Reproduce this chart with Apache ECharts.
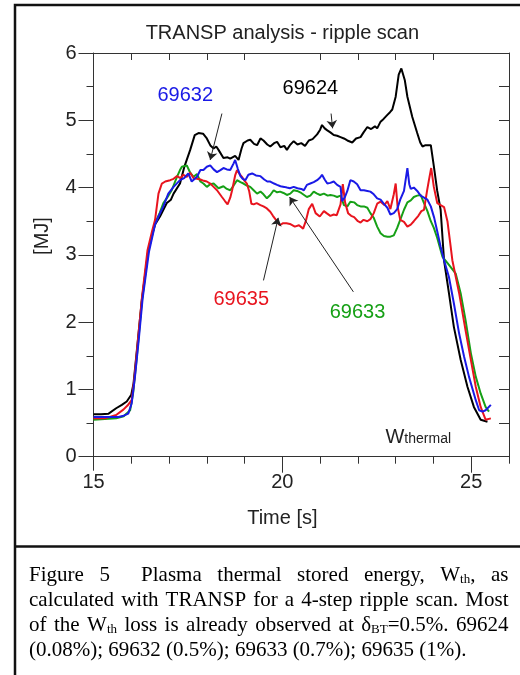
<!DOCTYPE html>
<html>
<head>
<meta charset="utf-8">
<script src="https://cdn.jsdelivr.net/npm/echarts@6.0.0/dist/echarts.min.js"></script>
<style>
html, body { margin: 0; padding: 0; background: #fff; }
#chart { width: 520px; height: 675px; }
</style>
</head>
<body>
<div id="chart"></div>
<script>
// ---- data: [time (s), W_thermal (MJ)] ----
const shot69624 = [
  [15.0,0.63],[15.2,0.63],[15.4,0.64],[15.6,0.72],[15.75,0.77],[15.88,0.82],[16.0,0.92],[16.06,1.09],
  [16.15,1.59],[16.28,2.33],[16.45,3.07],[16.55,3.3],[16.63,3.45],[16.76,3.57],[16.94,3.77],[17.05,3.82],
  [17.12,3.91],[17.29,4.06],[17.4,4.3],[17.56,4.56],[17.68,4.78],[17.78,4.81],[17.9,4.8],[18.0,4.73],
  [18.1,4.62],[18.18,4.58],[18.25,4.61],[18.31,4.56],[18.44,4.44],[18.55,4.45],[18.62,4.43],[18.75,4.47],
  [18.84,4.41],[18.92,4.58],[18.97,4.66],[19.08,4.7],[19.15,4.71],[19.25,4.65],[19.33,4.63],[19.42,4.73],
  [19.5,4.7],[19.6,4.64],[19.68,4.61],[19.78,4.66],[19.86,4.68],[19.95,4.6],[20.05,4.62],[20.12,4.56],
  [20.2,4.63],[20.3,4.69],[20.4,4.64],[20.5,4.66],[20.6,4.62],[20.7,4.7],[20.8,4.72],[20.92,4.79],
  [21.0,4.86],[21.05,4.93],[21.12,4.88],[21.19,4.85],[21.27,4.82],[21.36,4.78],[21.45,4.77],[21.54,4.75],
  [21.63,4.73],[21.72,4.7],[21.85,4.67],[21.95,4.73],[22.07,4.75],[22.15,4.82],[22.25,4.9],[22.35,4.87],
  [22.45,4.91],[22.51,4.88],[22.6,4.98],[22.68,5.02],[22.78,5.08],[22.85,5.12],[22.91,5.16],[23.0,5.35],
  [23.08,5.68],[23.15,5.77],[23.24,5.6],[23.31,5.35],[23.44,5.05],[23.57,4.81],[23.65,4.67],[23.71,4.61],
  [23.79,4.63],[23.93,4.63],[24.01,4.32],[24.1,3.95],[24.19,3.67],[24.28,2.92],[24.41,2.43],[24.54,1.93],
  [24.72,1.44],[24.9,1.04],[25.07,0.74],[25.25,0.55],[25.43,0.52]
];
const shot69632 = [
  [15.0,0.59],[15.3,0.59],[15.66,0.59],[15.8,0.61],[15.92,0.64],[16.01,0.79],[16.1,1.2],[16.2,1.75],
  [16.3,2.35],[16.47,3.05],[16.63,3.45],[16.72,3.57],[16.85,3.72],[16.98,3.91],[17.12,4.01],[17.29,4.11],
  [17.4,4.14],[17.51,4.21],[17.6,4.09],[17.74,4.16],[17.83,4.26],[17.91,4.26],[18.0,4.31],[18.09,4.33],
  [18.18,4.27],[18.27,4.23],[18.36,4.26],[18.44,4.29],[18.53,4.27],[18.62,4.26],[18.71,4.36],[18.75,4.41],
  [18.82,4.28],[18.89,4.17],[18.95,4.13],[19.02,4.11],[19.1,4.19],[19.2,4.21],[19.3,4.18],[19.42,4.17],
  [19.52,4.12],[19.6,4.09],[19.68,4.09],[19.78,4.06],[19.86,4.04],[19.95,4.02],[20.05,4.01],[20.12,4.0],
  [20.2,3.99],[20.3,4.01],[20.4,3.99],[20.5,3.98],[20.57,3.96],[20.65,4.04],[20.74,4.06],[20.83,4.08],
  [20.92,4.11],[21.0,4.15],[21.05,4.19],[21.12,4.12],[21.19,4.06],[21.27,4.07],[21.36,4.09],[21.45,4.04],
  [21.54,4.01],[21.58,3.8],[21.65,3.85],[21.72,3.95],[21.8,4.11],[21.89,4.09],[21.98,4.05],[22.07,3.96],
  [22.16,3.96],[22.25,3.95],[22.33,3.94],[22.42,3.9],[22.51,3.84],[22.6,3.82],[22.7,3.75],[22.78,3.7],
  [22.86,3.6],[22.95,3.62],[23.04,3.68],[23.12,3.82],[23.22,3.95],[23.31,4.29],[23.36,4.05],[23.4,3.98],
  [23.48,4.0],[23.57,3.95],[23.66,3.88],[23.75,3.85],[23.84,3.82],[23.93,3.72],[24.02,3.55],[24.1,3.35],
  [24.19,3.12],[24.28,2.92],[24.41,2.67],[24.54,2.28],[24.68,1.83],[24.81,1.49],[24.94,1.19],[25.12,0.84],
  [25.21,0.69],[25.3,0.67],[25.38,0.69],[25.52,0.77]
];
const shot69633 = [
  [15.0,0.55],[15.3,0.56],[15.6,0.57],[15.8,0.6],[15.97,0.69],[16.05,0.95],[16.15,1.5],[16.28,2.3],
  [16.45,3.05],[16.63,3.47],[16.75,3.62],[16.85,3.77],[16.95,3.85],[17.07,3.96],[17.21,4.16],[17.29,4.26],
  [17.34,4.31],[17.47,4.33],[17.56,4.22],[17.65,4.16],[17.74,4.2],[17.83,4.09],[17.91,4.06],[18.0,4.01],
  [18.09,4.05],[18.18,4.06],[18.31,3.99],[18.44,4.02],[18.53,3.98],[18.62,3.96],[18.71,4.03],[18.8,4.11],
  [18.89,4.08],[18.97,4.06],[19.06,4.03],[19.15,4.01],[19.24,3.96],[19.33,3.91],[19.42,3.94],[19.5,3.9],
  [19.59,3.84],[19.68,3.89],[19.77,3.96],[19.86,3.93],[19.94,3.94],[20.03,3.92],[20.12,3.89],[20.21,3.91],
  [20.3,3.96],[20.39,3.95],[20.5,3.92],[20.65,3.86],[20.74,3.88],[20.83,3.94],[20.92,3.91],[21.0,3.89],
  [21.1,3.91],[21.2,3.88],[21.27,3.89],[21.36,3.88],[21.45,3.86],[21.54,3.88],[21.63,3.74],[21.72,3.72],
  [21.8,3.79],[21.9,3.78],[21.98,3.74],[22.07,3.72],[22.16,3.72],[22.25,3.7],[22.33,3.62],[22.42,3.55],
  [22.51,3.42],[22.6,3.32],[22.69,3.28],[22.78,3.27],[22.86,3.27],[22.95,3.29],[23.04,3.4],[23.12,3.52],
  [23.22,3.67],[23.31,3.78],[23.4,3.81],[23.48,3.86],[23.57,3.88],[23.66,3.89],[23.75,3.77],[23.84,3.65],
  [23.93,3.5],[24.01,3.4],[24.1,3.25],[24.24,2.97],[24.41,2.85],[24.59,2.72],[24.72,2.43],[24.85,2.03],
  [24.99,1.54],[25.12,1.19],[25.25,0.94],[25.38,0.74],[25.47,0.67]
];
const shot69635 = [
  [15.0,0.57],[15.3,0.57],[15.6,0.62],[15.79,0.7],[15.9,0.76],[16.01,0.84],[16.08,1.15],[16.18,1.75],
  [16.28,2.35],[16.43,3.07],[16.55,3.35],[16.63,3.52],[16.72,3.91],[16.81,4.06],[16.9,4.09],[17.03,4.11],
  [17.12,4.13],[17.21,4.17],[17.3,4.14],[17.38,4.19],[17.47,4.16],[17.56,4.22],[17.65,4.14],[17.74,4.13],
  [17.83,4.12],[17.92,4.1],[18.0,4.09],[18.09,4.06],[18.18,4.01],[18.27,3.96],[18.4,3.86],[18.48,3.8],
  [18.55,3.75],[18.62,3.85],[18.67,3.96],[18.75,4.18],[18.8,4.26],[18.87,4.2],[18.93,4.16],[19.0,4.1],
  [19.06,4.06],[19.12,3.95],[19.18,3.76],[19.24,3.75],[19.32,3.77],[19.42,3.74],[19.5,3.72],[19.59,3.69],
  [19.68,3.64],[19.75,3.58],[19.83,3.52],[19.93,3.44],[20.02,3.47],[20.11,3.47],[20.2,3.46],[20.33,3.42],
  [20.44,3.44],[20.55,3.39],[20.62,3.5],[20.7,3.68],[20.79,3.76],[20.88,3.62],[20.99,3.57],[21.1,3.65],
  [21.17,3.62],[21.27,3.58],[21.36,3.6],[21.44,3.59],[21.54,3.75],[21.6,4.05],[21.66,3.78],[21.74,3.62],
  [21.82,3.58],[21.9,3.56],[22.0,3.5],[22.07,3.48],[22.15,3.52],[22.25,3.5],[22.33,3.53],[22.42,3.62],
  [22.51,3.76],[22.6,3.79],[22.7,3.74],[22.78,3.8],[22.86,3.68],[22.95,3.9],[23.0,4.06],[23.05,3.72],
  [23.12,3.52],[23.22,3.49],[23.31,3.42],[23.4,3.45],[23.48,3.5],[23.6,3.58],[23.68,3.65],[23.75,3.67],
  [23.83,3.95],[23.88,4.11],[23.94,4.29],[24.01,4.01],[24.1,3.77],[24.19,3.74],[24.28,3.71],[24.37,3.5],
  [24.45,3.15],[24.5,2.92],[24.68,2.43],[24.85,1.88],[24.99,1.44],[25.12,1.04],[25.25,0.74],[25.38,0.55],
  [25.52,0.57]
];

// axis ticks / labels
const xTickMinor = [15,16,17,18,19,20,21,22,23,24,25,26];
const xTickMajor = [15,20,25];
const xTopMinor = [16,17,18,19,21,22,23,24,26];
const xTopMajor = [20,25];

// annotations (shot number, label spot, arrow tail, arrow head) in data units
const shotNames = ['69624','69632','69633','69635'];
const shotColors = ['#000000','#1a1ae6','#16a016','#e8141e'];
const labelAt = [[20.74,5.47],[17.43,5.375],[21.99,2.15],[18.91,2.34]];
const arrowFrom = [[21.29,5.10],[18.40,5.10],[21.88,2.45],[19.50,2.62]];
const arrowTo = [[21.33,4.88],[18.09,4.41],[20.19,3.86],[19.89,3.55]];

const captionLines = [
  'Figure 5  Plasma thermal stored energy, W_{th}, as',
  'calculated with TRANSP for a 4-step ripple scan. Most',
  'of the W_{th} loss is already observed at δ_{BT}=0.5%. 69624',
  '(0.08%); 69632 (0.5%); 69633 (0.7%); 69635 (1%).'
];

// ==========================================
const SANS = "'Liberation Sans', Arial, sans-serif";
const SERIF = "'Liberation Serif', 'Times New Roman', serif";
const AX = '#333';
const chart = echarts.init(document.getElementById('chart'), null, { renderer: 'canvas' });

function hiddenAxis(extra) {
  return Object.assign({
    min: 15, max: 26, type: 'value', splitLine: { show: false },
    axisLabel: { show: false }, axisLine: { show: false }
  }, extra);
}

const allShots = [shot69624, shot69633, shot69635, shot69632];
const shotIdx = [0, 2, 3, 1];

chart.setOption({
  animation: false,
  grid: { left: 93.5, top: 53, width: 415.5, height: 403.7 },
  xAxis: [
    {
      type: 'value', position: 'bottom', min: 15, max: 26,
      axisLine: { show: true, onZero: false, lineStyle: { color: AX, width: 1 } },
      axisTick: { show: true, customValues: xTickMinor, length: 7, lineStyle: { color: AX } },
      axisLabel: { customValues: xTickMajor, margin: 16, fontSize: 20, fontFamily: SANS, color: '#222' },
      splitLine: { show: false }
    },
    hiddenAxis({ position: 'bottom', axisTick: { show: true, customValues: xTickMajor, length: 14, lineStyle: { color: AX } } }),
    hiddenAxis({ position: 'top', axisLine: { show: true, onZero: false, lineStyle: { color: AX } },
      axisTick: { show: true, inside: true, customValues: xTopMinor, length: 7, lineStyle: { color: AX } } }),
    hiddenAxis({ position: 'top', axisTick: { show: true, inside: true, customValues: xTopMajor, length: 16, lineStyle: { color: AX } } })
  ],
  yAxis: [
    {
      type: 'value', position: 'left', min: 0, max: 6, interval: 1,
      axisLine: { show: true, onZero: false, lineStyle: { color: AX } },
      axisTick: { show: true, length: 15, lineStyle: { color: AX } },
      minorTick: { show: true, splitNumber: 2, length: 7, lineStyle: { color: AX } },
      axisLabel: { margin: 17, fontSize: 20, fontFamily: SANS, color: '#222' },
      splitLine: { show: false }
    },
    {
      type: 'value', position: 'right', min: 0, max: 6, interval: 0.5,
      axisLine: { show: true, onZero: false, lineStyle: { color: AX } },
      axisTick: { show: true, inside: true, length: 10, lineStyle: { color: AX } },
      axisLabel: { show: false }, splitLine: { show: false }
    }
  ],
  series: allShots.map((d, i) => ({
    name: shotNames[shotIdx[i]],
    type: 'line', data: d, showSymbol: false, silent: true,
    lineStyle: { color: shotColors[shotIdx[i]], width: 2 },
    itemStyle: { color: shotColors[shotIdx[i]] },
    markLine: i === 0 ? {
      silent: true, symbol: ['none', 'arrow'], symbolSize: 8,
      lineStyle: { color: '#222', width: 1, type: 'solid' },
      label: { show: false },
      data: arrowFrom.map((p, k) => [{ coord: p }, { coord: arrowTo[k] }])
    } : undefined
  }))
});

// ---------- texts ----------
const toPx = p => chart.convertToPixel({ seriesIndex: 0 }, p);
const g = [];

// frame around the figure + caption separator
g.push({ type: 'rect', shape: { x: 15, y: 5, width: 530, height: 700 }, style: { fill: 'none', stroke: '#111', lineWidth: 2.5 }, silent: true });
g.push({ type: 'line', shape: { x1: 15, y1: 546.5, x2: 530, y2: 546.5 }, style: { stroke: '#111', lineWidth: 2.5 }, silent: true });

const mid20 = toPx([20, 0])[0];
g.push({ type: 'text', x: mid20, y: 33, style: { text: 'TRANSP analysis - ripple scan', fontSize: 20, fontFamily: SANS, fill: '#222', align: 'center', verticalAlign: 'middle' } });
g.push({ type: 'text', x: mid20, y: 518, style: { text: 'Time [s]', fontSize: 20, fontFamily: SANS, fill: '#222', align: 'center', verticalAlign: 'middle' } });
g.push({ type: 'text', x: 42.5, y: 236, rotation: Math.PI / 2, style: { text: '[MJ]', fontSize: 20, fontFamily: SANS, fill: '#222', align: 'center', verticalAlign: 'middle' } });

shotNames.forEach((n, i) => {
  const p = toPx(labelAt[i]);
  g.push({ type: 'text', x: p[0], y: p[1], style: { text: n, fontSize: 20, fontFamily: SANS, fill: shotColors[i], align: 'center', verticalAlign: 'middle' } });
});

const wPos = toPx([22.73, 0.29]);
g.push({ type: 'text', x: wPos[0], y: wPos[1], style: {
  text: '{a|W}{b|thermal}', align: 'left', verticalAlign: 'middle', fill: '#222',
  rich: {
    a: { fontSize: 20, fontFamily: SANS, fill: '#222', verticalAlign: 'bottom' },
    b: { fontSize: 14, fontFamily: SANS, fill: '#222', verticalAlign: 'bottom', padding: [0, 0, 1, 0] }
  }
} });

// caption, justified word by word
const ctx = document.createElement('canvas').getContext('2d');
const CAP = 21, SUB = 13;
function segs(word) {
  const out = [];
  word.split(/(_\{[^}]*\})/).forEach(s => {
    if (!s) return;
    if (s.startsWith('_{')) out.push({ t: s.slice(2, -1), sub: true });
    else out.push({ t: s, sub: false });
  });
  return out;
}
function wWidth(sg) {
  return sg.reduce((a, s) => { ctx.font = (s.sub ? SUB : CAP) + 'px ' + SERIF; return a + ctx.measureText(s.t).width; }, 0);
}
const capLeft = 29, capRight = 508.5;
captionLines.forEach((line, li) => {
  const y = 575 + li * 25;
  const words = [], gaps = [];
  let pending = 0;
  line.split(' ').forEach(tok => {
    if (tok === '') { pending++; return; }
    if (words.length) gaps.push(1 + pending);
    pending = 0;
    words.push(segs(tok));
  });
  const widths = words.map(wWidth);
  let unit;
  ctx.font = CAP + 'px ' + SERIF;
  if (li === captionLines.length - 1) unit = ctx.measureText(' ').width;
  else unit = (capRight - capLeft - widths.reduce((a, b) => a + b, 0)) / gaps.reduce((a, b) => a + b, 0);
  let x = capLeft;
  words.forEach((sg, wi) => {
    let xx = x;
    sg.forEach(s => {
      g.push({ type: 'text', x: xx, y: y + (s.sub ? 5 : 0), style: { text: s.t, fontSize: s.sub ? SUB : CAP, fontFamily: SERIF, fill: '#000', align: 'left', verticalAlign: 'middle' } });
      ctx.font = (s.sub ? SUB : CAP) + 'px ' + SERIF;
      xx += ctx.measureText(s.t).width;
    });
    x += widths[wi] + (wi < gaps.length ? gaps[wi] * unit : 0);
  });
});

chart.setOption({ graphic: g });
</script>
</body>
</html>
